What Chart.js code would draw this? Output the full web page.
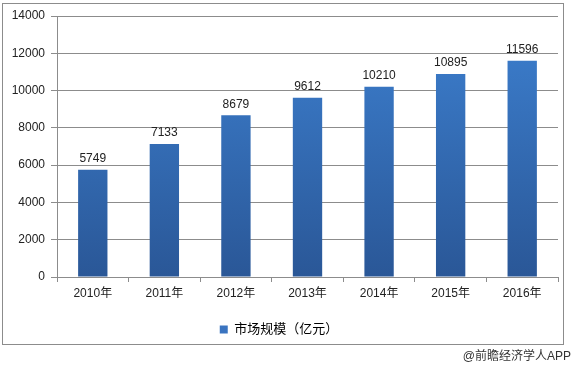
<!DOCTYPE html>
<html>
<head>
<meta charset="utf-8">
<script src="https://cdn.jsdelivr.net/npm/chart.js@4"></script>
<style>
  body { margin: 0; background: #fff; }
  #wrap { width: 576px; height: 370px; position: relative; }
</style>
</head>
<body>
<div id="wrap"><canvas id="chart" width="576" height="370"></canvas></div>
<script>
const years = ["2010年", "2011年", "2012年", "2013年", "2014年", "2015年", "2016年"];
const marketSize = [5749, 7133, 8679, 9612, 10210, 10895, 11596];
const seriesName = "市场规模（亿元）";
const sourceNote = "@前瞻经济学人APP";

const FONT = "'Liberation Sans', 'Noto Sans CJK SC', sans-serif";
const gridColor = "#8c8c8c";

const barGradient = (ctx) => {
  const area = ctx.chart.chartArea;
  if (!area) return "#3470b8";
  const g = ctx.chart.ctx.createLinearGradient(0, area.top, 0, area.bottom);
  g.addColorStop(0, "#3d80d0");
  g.addColorStop(1, "#2a5797");
  return g;
};

const frame = {
  id: "frame",
  beforeDraw(chart) {
    const c = chart.ctx;
    c.save();
    c.fillStyle = "#fff";
    c.fillRect(0, 0, chart.width, chart.height);
    c.strokeStyle = "#8c8c8c";
    c.lineWidth = 1;
    c.strokeRect(2.5, 3.5, 561, 341);
    c.restore();
  },
  afterDraw(chart) {
    const c = chart.ctx;
    c.save();
    c.font = "12px " + FONT;
    c.fillStyle = "#333";
    c.textAlign = "right";
    c.textBaseline = "middle";
    c.fillText(sourceNote, 571, 357);
    c.restore();
  },
};

const valueLabels = {
  id: "valueLabels",
  afterDatasetsDraw(chart) {
    const c = chart.ctx;
    const meta = chart.getDatasetMeta(0);
    c.save();
    c.font = "12px " + FONT;
    c.fillStyle = "#222";
    c.textAlign = "center";
    c.textBaseline = "bottom";
    meta.data.forEach((bar, i) => {
      c.fillText(String(marketSize[i]), bar.x, bar.y - 5);
    });
    c.restore();
  },
};

new Chart(document.getElementById("chart"), {
  type: "bar",
  data: {
    labels: years,
    datasets: [
      {
        label: seriesName,
        data: marketSize,
        backgroundColor: barGradient,
        categoryPercentage: 1,
        barPercentage: 0.41,
      },
    ],
  },
  options: {
    responsive: false,
    animation: false,
    layout: { padding: { left: 0, right: 18, top: 16, bottom: 24 } },
    plugins: {
      legend: {
        position: "bottom",
        labels: {
          font: { size: 13, family: FONT },
          color: "#222",
          boxWidth: 8,
          boxHeight: 8,
          padding: 10,
          generateLabels: () => [
            { text: seriesName, fillStyle: "#3a74c0", strokeStyle: "#3a74c0", lineWidth: 0, datasetIndex: 0 },
          ],
        },
      },
      tooltip: { enabled: false },
    },
    scales: {
      x: {
        offset: true,
        grid: {
          offset: true,
          drawOnChartArea: false,
          drawTicks: true,
          tickLength: 5,
          color: gridColor,
        },
        border: { color: gridColor },
        ticks: { font: { size: 12, family: FONT }, color: "#222", padding: 4 },
        afterFit: (scale) => { scale.height = 36; },
      },
      y: {
        min: 0,
        max: 14000,
        ticks: {
          stepSize: 2000,
          font: { size: 12, family: FONT },
          color: "#222",
          padding: 6,
          callback: (v) => String(v),
        },
        grid: { color: gridColor, tickLength: 6 },
        border: { color: gridColor },
        afterFit: (scale) => { scale.width = 57; },
      },
    },
  },
  plugins: [frame, valueLabels],
});
</script>
</body>
</html>
